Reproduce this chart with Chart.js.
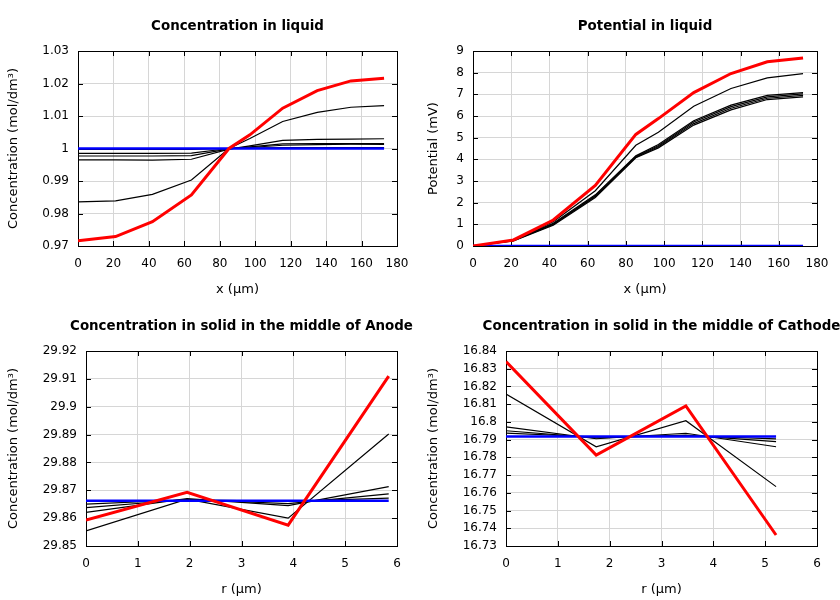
<!DOCTYPE html>
<html><head><meta charset="utf-8">
<script src="https://cdn.jsdelivr.net/npm/chart.js@4"></script>
<style>
html,body{margin:0;padding:0;background:#fff;width:840px;height:600px;overflow:hidden}
.wrap{position:absolute;width:420px;height:300px;overflow:hidden}
canvas{display:block}
</style></head><body>
<div class="wrap" style="left:0;top:0"><canvas id="c1" width="420" height="300"></canvas></div>
<div class="wrap" style="left:420px;top:0"><canvas id="c2" width="420" height="300"></canvas></div>
<div class="wrap" style="left:0;top:300px"><canvas id="c3" width="420" height="300"></canvas></div>
<div class="wrap" style="left:420px;top:300px"><canvas id="c4" width="420" height="300"></canvas></div>
<script>
// ---------- data ----------
const xLiquid = [0, 21.2, 42, 64, 85.2, 97, 115.5, 135, 154, 172.7];

const concRed    = [0.9716, 0.9729, 0.9775, 0.9857, 1.0000, 1.0042, 1.0124, 1.0178, 1.0208, 1.0216];
const concBlack1 = [0.9836, 0.9839, 0.9859, 0.9903, 1.0000, 1.0031, 1.0083, 1.0111, 1.0127, 1.0132];
const concBlack2 = [0.9965, 0.9965, 0.9964, 0.9967, 0.9998, 1.0008, 1.0025, 1.0028, 1.0029, 1.0030];
const concBlack3 = [0.9977, 0.9977, 0.9977, 0.9978, 0.9999, 1.0005, 1.0014, 1.0015, 1.0015, 1.0015];
const concBlack4 = [0.9985, 0.9985, 0.9985, 0.9986, 1.0000, 1.0003, 1.0010, 1.0012, 1.0013, 1.0013];
const concBlack5 = [0.9997, 0.9997, 0.9997, 0.9997, 1.0000, 1.0001, 1.0003, 1.0003, 1.0003, 1.0003];
const concBlue   = [1.0000, 1.0000, 1.0000, 1.0000, 1.0000, 1.0000, 1.0000, 1.0000, 1.0000, 1.0000];

const potRed    = [0, 0.28, 1.20, 2.80, 5.15, 5.88, 7.08, 7.96, 8.50, 8.68];
const potBlack1 = [0, 0.27, 1.12, 2.55, 4.65, 5.25, 6.45, 7.27, 7.76, 7.96];
const potBlack2 = [0, 0.27, 1.05, 2.36, 4.16, 4.68, 5.78, 6.50, 6.95, 7.08];
const potBlack3 = [0, 0.26, 1.02, 2.32, 4.13, 4.63, 5.72, 6.43, 6.88, 7.02];
const potBlack4 = [0, 0.25, 0.99, 2.28, 4.10, 4.58, 5.65, 6.36, 6.82, 6.95];
const potBlack5 = [0, 0.24, 0.96, 2.24, 4.07, 4.53, 5.58, 6.28, 6.76, 6.88];
const potBlue   = [0, 0, 0, 0, 0, 0, 0, 0, 0, 0];

const rAnode = [0, 1.95, 3.9, 5.84];
const anodeRed    = [29.8593, 29.8693, 29.8575, 29.9110];
const anodeBlack1 = [29.8554, 29.8668, 29.8600, 29.8902];
const anodeBlack2 = [29.8621, 29.8670, 29.8645, 29.8713];
const anodeBlack3 = [29.8638, 29.8667, 29.8652, 29.8687];
const anodeBlack4 = [29.8650, 29.8666, 29.8660, 29.8672];
const anodeBlue   = [29.8662, 29.8662, 29.8662, 29.8662];

const rCathode = [0, 1.74, 3.47, 5.21];
const cathRed    = [16.8340, 16.7813, 16.8090, 16.7362];
const cathBlack1 = [16.8157, 16.7860, 16.8007, 16.7635];
const cathBlack2 = [16.7972, 16.7905, 16.7936, 16.7860];
const cathBlack3 = [16.7950, 16.7910, 16.7925, 16.7889];
const cathBlack4 = [16.7937, 16.7915, 16.7922, 16.7904];
const cathBlue   = [16.7917, 16.7917, 16.7917, 16.7917];

// ---------- tick labels ----------
const xLiquidTicks  = [0, 20, 40, 60, 80, 100, 120, 140, 160, 180];
const xLiquidLabels = ['0','20','40','60','80','100','120','140','160','180'];
const concTicks  = [0.97, 0.98, 0.99, 1.00, 1.01, 1.02, 1.03];
const concLabels = ['0.97','0.98','0.99','1','1.01','1.02','1.03'];
const potTicks  = [0,1,2,3,4,5,6,7,8,9];
const potLabels = ['0','1','2','3','4','5','6','7','8','9'];
const rTicks  = [0,1,2,3,4,5,6];
const rLabels = ['0','1','2','3','4','5','6'];
const anodeTicks  = [29.85, 29.86, 29.87, 29.88, 29.89, 29.90, 29.91, 29.92];
const anodeLabels = ['29.85','29.86','29.87','29.88','29.89','29.9','29.91','29.92'];
const cathTicks  = [16.73, 16.74, 16.75, 16.76, 16.77, 16.78, 16.79, 16.80, 16.81, 16.82, 16.83, 16.84];
const cathLabels = ['16.73','16.74','16.75','16.76','16.77','16.78','16.79','16.8','16.81','16.82','16.83','16.84'];

// ---------- drawing ----------
Chart.defaults.font.family = "'DejaVu Sans', sans-serif";
Chart.defaults.color = '#000';

const FONT = "'DejaVu Sans', sans-serif";
const GRID = '#d6d6d6';

const framePlugin = {
  id: 'frame',
  beforeDatasetsDraw(chart) {
    const {ctx, chartArea: a, scales} = chart;
    ctx.save();
    ctx.strokeStyle = '#000';
    ctx.lineWidth = 1;
    ctx.beginPath();
    const L = 5;
    scales.x.ticks.forEach(t => {
      const p = Math.round(scales.x.getPixelForValue(t.value)) + 0.5;
      ctx.moveTo(p, a.bottom); ctx.lineTo(p, a.bottom - L);
      ctx.moveTo(p, a.top); ctx.lineTo(p, a.top + L);
    });
    scales.y.ticks.forEach(t => {
      const p = Math.round(scales.y.getPixelForValue(t.value)) + 0.5;
      ctx.moveTo(a.left, p); ctx.lineTo(a.left + L, p);
      ctx.moveTo(a.right, p); ctx.lineTo(a.right - L, p);
    });
    ctx.stroke();
    ctx.strokeRect(Math.round(a.left) + 0.5, Math.round(a.top) + 0.5,
                   Math.round(a.right - a.left), Math.round(a.bottom - a.top));
    ctx.restore();
  },
  afterDraw(chart, args, opts) {
    const {ctx, chartArea: a} = chart;
    ctx.save();
    ctx.font = "bold 13.4px " + FONT;
    ctx.fillStyle = '#000';
    ctx.textAlign = 'center';
    ctx.textBaseline = 'middle';
    ctx.fillText(opts.text, (a.left + a.right) / 2, 26.5);
    ctx.restore();
  }
};

function pts(xs, ys) { return xs.map((x, i) => ({x: x, y: ys[i]})); }

function ds(xs, ys, color, width) {
  return {data: pts(xs, ys), borderColor: color, borderWidth: width,
          pointRadius: 0, fill: false, tension: 0};
}

function makeChart(id, cfg) {
  const datasets = [ds(cfg.xs, cfg.red, '#ff0000', 3), ds(cfg.xs, cfg.blue, '#0000ff', 2.5)];
  cfg.blacks.forEach(b => datasets.push(ds(cfg.xs, b, '#000000', 1.2)));
  return new Chart(document.getElementById(id), {
    type: 'line',
    data: {datasets: datasets},
    plugins: [framePlugin],
    options: {
      responsive: false,
      animation: false,
      events: [],
      layout: {padding: {left: 0, right: 23, top: 51, bottom: 0}},
      plugins: {legend: {display: false}, tooltip: {enabled: false}, title: {display: false},
                frame: {text: cfg.title}},
      scales: {
        x: {
          type: 'linear', min: cfg.xTicks[0], max: cfg.xTicks[cfg.xTicks.length - 1],
          afterBuildTicks: s => { s.ticks = cfg.xTicks.map(v => ({value: v})); },
          afterFit: s => { s.height = 54; },
          grid: {color: GRID, drawTicks: false, lineWidth: 1},
          border: {display: false},
          ticks: {autoSkip: false, maxRotation: 0, padding: 11, font: {size: 12, family: FONT},
                  callback: (v, i) => cfg.xLabels[i]},
          title: {display: true, text: cfg.xTitle, font: {size: 13, family: FONT},
                  padding: {top: 0, bottom: 3}}
        },
        y: {
          type: 'linear', min: cfg.yTicks[0], max: cfg.yTicks[cfg.yTicks.length - 1],
          afterBuildTicks: s => { s.ticks = cfg.yTicks.map(v => ({value: v})); },
          afterFit: s => { s.width = cfg.left; },
          grid: {color: GRID, drawTicks: false, lineWidth: 1},
          border: {display: false},
          ticks: {autoSkip: false, padding: 9, font: {size: 12, family: FONT},
                  callback: (v, i) => cfg.yLabels[i]},
          title: {display: true, text: cfg.yTitle, font: {size: 13, family: FONT},
                  padding: {top: 6, bottom: 0}}
        }
      }
    }
  });
}

makeChart('c1', {
  title: 'Concentration in liquid', xs: xLiquid,
  red: concRed, blue: concBlue, blacks: [concBlack1, concBlack2, concBlack3, concBlack4, concBlack5],
  xTicks: xLiquidTicks, xLabels: xLiquidLabels, yTicks: concTicks, yLabels: concLabels,
  xTitle: 'x (µm)', yTitle: 'Concentration (mol/dm³)', left: 78
});
makeChart('c2', {
  title: 'Potential in liquid', xs: xLiquid,
  red: potRed, blue: potBlue, blacks: [potBlack1, potBlack2, potBlack3, potBlack4, potBlack5],
  xTicks: xLiquidTicks, xLabels: xLiquidLabels, yTicks: potTicks, yLabels: potLabels,
  xTitle: 'x (µm)', yTitle: 'Potential (mV)', left: 53
});
makeChart('c3', {
  title: 'Concentration in solid in the middle of Anode', xs: rAnode,
  red: anodeRed, blue: anodeBlue, blacks: [anodeBlack1, anodeBlack2, anodeBlack3, anodeBlack4],
  xTicks: rTicks, xLabels: rLabels, yTicks: anodeTicks, yLabels: anodeLabels,
  xTitle: 'r (µm)', yTitle: 'Concentration (mol/dm³)', left: 86
});
makeChart('c4', {
  title: 'Concentration in solid in the middle of Cathode', xs: rCathode,
  red: cathRed, blue: cathBlue, blacks: [cathBlack1, cathBlack2, cathBlack3, cathBlack4],
  xTicks: rTicks, xLabels: rLabels, yTicks: cathTicks, yLabels: cathLabels,
  xTitle: 'r (µm)', yTitle: 'Concentration (mol/dm³)', left: 86
});
</script>
</body></html>
